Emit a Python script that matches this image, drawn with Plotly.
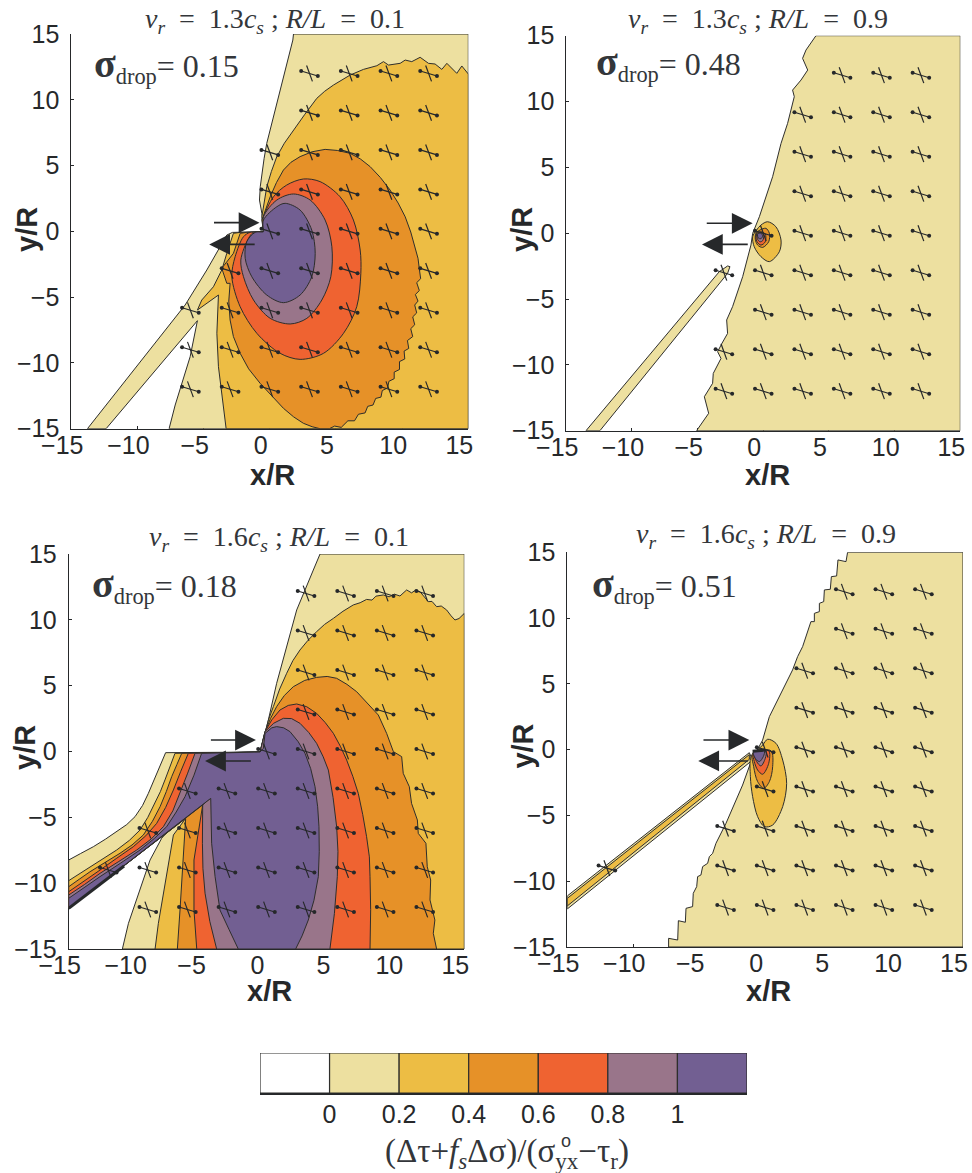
import plotly.graph_objects as go

COLORS = ["#EDE0A0", "#EDBD44", "#E69128", "#EF6331", "#99758A", "#725F92"]
DARK = "#26282A"
LEVEL_EDGES = [-0.2, 0, 0.2, 0.4, 0.6, 0.8, 1.0, 1.2]
LEVEL_COLORS = ["#FFFFFF"] + COLORS
TICKS = [-15, -10, -5, 0, 5, 10, 15]
TICK_TEXT = ["−15", "−10", "−5", "0", "5", "10", "15"]
LEVEL_TICKS = [0, 0.2, 0.4, 0.6, 0.8, 1.0]
LEVEL_TEXT = ["0", "0.2", "0.4", "0.6", "0.8", "1"]

# ---------------- Panel A: v_r=1.3 c_s, R/L=0.1
A_PALE = [(1.79,15),(15,15),(15,-15),(-7.61,-15),(-7.15,-13.2),(-6.65,-11.55),(-6.02,-9.53),(-5.47,-6.79),(-12.37,-15),(-13.78,-15),(-10.68,-11.05),(-6.4,-5.6),(-4.76,-2.94),(-3.25,-0.28),(-2.82,-0.08),(-0.48,-0.03),(-0.6,1.37),(-0.78,2.38),(-0.72,3.4),(-0.6,4.41),(-0.43,5.55),(-0.23,6.69),(0.53,9.73),(1.28,12.52),(1.74,14.54)]
A_GOLD = [(-0.6,1.11),(-.45,2.2),(-0.23,3.39),(.12,4.55),(0.53,5.68),(1.1,6.7),(1.79,7.7),(2.65,8.9),(3.55,10.11),(4.15,10.65),(4.81,11.12),(5.4,11.5),(6.07,11.88),(7.08,12.31),(8.09,12.59),(8.59,12.9),(8.97,12.64),(9.85,12.77),(10.23,13.02),(10.73,12.9),(11.36,13.23),(11.99,12.77),(12.49,12.72),(13,12.31),(13.38,12.77),(14.13,12.01),(14.51,12.57),(15,11.96),(15,-15),(-3.3,-15),(-3.55,-12.82),(-3.88,-10.29),(-4,-7.75),(-3.88,-4.84),(-5.47,-5.98),(-5.14,-5.22),(-4.26,-4.21),(-3.63,-2.94),(-3.25,-1.67),(-2.75,-0.15),(-2.24,-0.08),(-0.48,-0.03)]
A_ORANGE = [(-0.6,0.86),(-.3,1.75),(0.03,2.63),(.5,3.7),(1.03,4.66),(1.6,5.25),(2.29,5.68),(3.2,6.05),(4.18,6.23),(5.1,6.15),(6.07,5.93),(6.85,5.5),(7.58,4.92),(8.35,4.1),(9.09,3.14),(9.7,2.15),(10.23,1.11),(10.65,-.05),(10.98,-1.17),(11.2,-2.05),(11.31,-2.94),(11.4,-3.6),(11.1,-3.9),(11.3,-4.5),(11.0,-4.8),(11.2,-5.3),(10.95,-5.6),(11.1,-6.2),(10.8,-6.5),(10.95,-7.1),(10.65,-7.4),(10.8,-8),(10.4,-8.3),(10.5,-8.9),(10.15,-9.1),(10.2,-9.7),(9.8,-9.9),(9.8,-10.5),(9.4,-10.7),(9.4,-11.2),(9,-11.4),(8.9,-11.9),(8.5,-12.1),(8.4,-12.6),(8,-12.7),(7.8,-13.2),(7.4,-13.3),(7.2,-13.8),(6.7,-13.9),(6.4,-14.4),(5.9,-14.4),(5.4,-14.9),(4.9,-14.8),(4.5,-15),(3.8,-15),(3.2,-14.85),(2.54,-14.59),(1.8,-14.1),(1.03,-13.45),(.15,-12.5),(-0.73,-11.55),(-1.6,-10.45),(-2.24,-9.27),(-2.75,-8),(-3,-6.74),(-3.1,-5.3),(-3,-3.95),(-3.25,-3.95),(-3.63,-2.81),(-2.75,-1.67),(-2.24,-0.15),(-1.74,-0.08),(-0.48,-0.03)]
A_RED = [(-0.48,0.99),(0.28,2.63),(1.28,3.52),(2.54,3.98),(3.8,3.78),(5.31,2.63),(6.32,0.86),(6.83,-1.42),(6.88,-3.19),(6.57,-5.73),(5.57,-7.75),(4.06,-9.27),(2.29,-9.73),(0.78,-9.27),(-0.98,-7.75),(-2.24,-5.73),(-2.87,-3.45),(-2.62,-1.93),(-1.99,-0.41),(-1.49,-0.08),(-0.48,-0.03)]
A_MAUVE = [(-0.48,1.11),(0.53,2.38),(1.79,2.84),(3.05,2.38),(4.18,0.86),(4.69,-1.17),(4.61,-3.45),(3.93,-5.22),(2.8,-6.61),(1.54,-7.04),(0.03,-6.61),(-1.23,-5.22),(-1.99,-3.45),(-2.19,-2.18),(-1.61,-0.53),(-1.23,-0.08),(-0.48,-0.03)]
A_PURPLE = [(-0.48,0.05),(-0.48,0.86),(0.53,1.87),(1.16,2.13),(2.29,1.62),(3.17,0.1),(3.43,-1.67),(3.17,-3.45),(2.29,-4.84),(1.03,-5.42),(-0.23,-4.84),(-1.36,-3.45),(-1.86,-2.05),(-1.74,-0.79),(-1.11,-0.08),(-0.48,-0.03)]

# ---------------- Panel B: v_r=1.3 c_s, R/L=0.9
B_PALE = [(4.01,15),(15,15),(15,-15),(-5.08,-15),(-4.16,-13.68),(-4.49,-12.42),(-3.86,-11.4),(-3.81,-10.65),(-3.22,-9.51),(-3.48,-9),(-3.15,-8.37),(-2.72,-7.61),(-2.79,-6.59),(-2.34,-5.58),(-1.57,-3.3),(-0.94,-0.9),(-0.81,-0.01),(-0.3,1.25),(0.71,4.29),(1.35,6.82),(1.85,8.34),(2.11,9.35),(2.36,10.37),(2.23,10.87),(2.87,11.63),(3.38,12.39),(2.99,13.28),(3.25,13.91)]
B_STRIP = [(-13.5,-15),(-3.35,-2.92),(-2.72,-2.49),(-2.54,-2.54),(-2.72,-3.05),(-12.44,-15)]
B_GOLD = [(.33,.87),(.96,.49),(1.35,-.52),(1.22,-1.41),(.46,-2.16),(-.18,-1.78),(-.69,-1.03),(-.81,-.27),(-.51,.24),(-.18,.62)]
B_ORANGE = [(-.56,0),(-.25,.24),(.2,.37),(.46,0),(.41,-.65),(-.05,-1.08),(-.43,-.9),(-.61,-.47)]
B_RED = [(-.56,-.06),(-.18,.11),(.15,-.06),(.15,-.65),(-.18,-.9),(-.48,-.65)]
B_MAUVE = [(-.5,-.06),(-.18,.04),(.03,-.14),(-.05,-.57),(-.25,-.65),(-.43,-.47)]
B_PURPLE = [(-.43,-.06),(-.18,0),(-.05,-.22),(-.18,-.42),(-.38,-.37)]

# ---------------- Panel C: v_r=1.6 c_s, R/L=0.1
C_PALE = [(4.06,15),(15,15),(15,-15),(-10.93,-15),(-10.47,-13.05),(-9.59,-10.52),(-8.83,-8.24),(-7.95,-6.59),(-7.14,-5.71),(-15,-11.91),(-15,-8.24),(-14.1,-7.75),(-13.13,-7.23),(-12.2,-6.65),(-11.36,-6.09),(-10.6,-5.55),(-9.97,-4.95),(-9.4,-4.1),(-8.96,-3.18),(-8.55,-2.25),(-8.2,-1.41),(-7.9,-.7),(-7.65,-0.09),(-0.49,-0.04),(-0.24,0.87),(0.14,2.39),(0.77,5.18),(1.53,7.96),(2.29,10.75),(3.55,13.78)]
C_GOLD = [(-0.11,1.38),(.15,2.4),(.52,3.41),(1,4.75),(1.53,5.94),(2,6.9),(2.54,7.71),(3.15,8.45),(3.8,9.1),(4.4,9.65),(5.07,10.11),(5.8,10.65),(6.58,11.13),(7.1,11.3),(7.59,11.55),(8,11.5),(8.3,11.8),(8.86,11.89),(9.3,11.75),(9.7,11.95),(10.12,11.81),(10.63,12.27),(11,12.05),(11.3,12.25),(11.64,12.14),(11.95,11.75),(12.27,11.38),(12.55,11.4),(12.9,11),(13.25,11.05),(13.66,10.75),(14,10.3),(14.29,9.99),(14.6,10.1),(15,10.49),(15,-15),(-8.45,-15),(-8.2,-13.05),(-7.57,-9.51),(-7.06,-6.34),(-6.13,-5.08),(-15,-11.91),(-15,-9.81),(-14.2,-9.3),(-13.38,-8.75),(-12.4,-8.15),(-11.36,-7.48),(-10.4,-6.75),(-9.59,-5.96),(-9,-5),(-8.45,-3.94),(-8.05,-3.05),(-7.7,-2.16),(-7.3,-1.1),(-6.94,-.14),(-0.49,-0.04)]
C_ORANGE = [(-.11,1.51),(.3,2.5),(.77,3.41),(1.35,4.25),(2.03,4.92),(2.9,5.4),(3.8,5.63),(4.6,5.7),(5.32,5.56),(6.1,5.1),(6.84,4.54),(7.5,3.85),(8.1,3.15),(8.48,2.77),(9.11,1.38),(9.62,-0.01),(10.25,-0.39),(10.37,-1.66),(10.83,-2.67),(11.0,-3.94),(11.44,-5.2),(11.51,-6.22),(12.09,-6.97),(12.19,-8.75),(12.45,-9.76),(12.4,-11.28),(12.77,-12.8),(12.65,-13.81),(12.9,-15),(-6.76,-15),(-6.56,-12.04),(-6.31,-8.24),(-6.13,-5.08),(-15,-11.91),(-15,-10.27),(-14.2,-9.7),(-13.38,-9.13),(-12.2,-8.4),(-11.11,-7.73),(-10.2,-7.1),(-9.34,-6.34),(-8.65,-5.3),(-8.07,-4.19),(-7.6,-3.05),(-7.19,-1.91),(-6.8,-1),(-6.43,-.14),(-0.49,-0.04)]
C_RED = [(-.11,1.51),(.4,2.4),(1.02,3.15),(1.65,3.5),(2.29,3.61),(3.05,3.4),(3.8,2.9),(4.45,2.2),(5.07,1.38),(5.6,.4),(6.08,-.65),(6.55,-1.9),(6.96,-3.18),(7.3,-4.8),(7.59,-6.47),(7.8,-8),(7.85,-9.51),(7.9,-12),(7.85,-15),(-5.29,-15),(-5.5,-12.04),(-5.5,-8.24),(-4.84,-4.06),(-15,-11.91),(-15,-10.65),(-13.8,-9.85),(-12.62,-9),(-11.35,-8.1),(-10.1,-7.23),(-9.15,-6.4),(-8.33,-5.46),(-7.65,-4.25),(-7.06,-2.92),(-6.5,-1.5),(-5.93,-.14),(-0.49,-0.04)]
C_MAUVE = [(-.11,1.51),(.55,2.15),(1.28,2.52),(1.9,2.5),(2.54,2.14),(3.2,1.45),(3.8,.62),(4.3,-.4),(4.69,-1.41),(5.05,-3.5),(5.32,-5.71),(5.42,-7.6),(5.37,-9.51),(5.15,-12.3),(4.81,-15),(-3.78,-15),(-4.3,-12.9),(-4.66,-10.77),(-4.82,-8.9),(-4.86,-6.97),(-4.84,-4.06),(-4.28,-3.56),(-15,-11.91),(-15,-10.9),(-13.8,-10.1),(-12.62,-9.25),(-11.2,-8.35),(-9.84,-7.48),(-8.75,-6.65),(-7.82,-5.71),(-7.1,-4.5),(-6.56,-3.18),(-6,-1.7),(-5.42,-.14),(-0.49,-0.04)]
C_PURPLE = [(-.11,1.38),(.4,1.8),(.77,1.89),(1.3,1.8),(1.78,1.51),(2.4,.75),(2.92,-.14),(3.35,-1.3),(3.68,-2.67),(3.88,-4.2),(3.98,-5.71),(4.0,-7.6),(3.93,-9.51),(3.6,-11.3),(3.17,-12.8),(2.7,-14),(2.21,-15),(-2.14,-15),(-2.85,-13.5),(-3.53,-12.04),(-3.9,-9.5),(-4.16,-6.97),(-4.23,-3.56),(-15,-11.91),(-15,-11.15),(-13.8,-10.3),(-12.62,-9.5),(-11.1,-8.5),(-9.59,-7.48),(-8.5,-6.6),(-7.57,-5.71),(-6.85,-4.6),(-6.18,-3.43),(-5.5,-1.8),(-4.92,-.14),(-0.49,-0.04),(-0.24,0.24)]
C_THICK_EDGE = [(-15,-11.91),(-10.8,-8.7)]

# ---------------- Panel D: v_r=1.6 c_s, R/L=0.9
D_PALE = [(6.25,15),(15,15),(15,-15),(-7.32,-15),(-7.32,-14.34),(-6.63,-14.47),(-6.58,-13),(-6.05,-13.12),(-6,-12.06),(-5.5,-11.93),(-5.45,-10.92),(-5.19,-10.41),(-5.12,-9.65),(-4.87,-9.53),(-4.74,-8.89),(-4.36,-8.64),(-4.23,-8.13),(-3.98,-7.88),(-3.73,-7.12),(-2.97,-5.6),(-1.71,-2.69),(-1.07,-0.91),(-0.19,0.73),(0.32,2.51),(2.08,6.06),(2.46,7.07),(2.84,7.83),(3.22,8.97),(3.47,9.73),(3.73,9.73),(3.73,10.36),(4.11,10.49),(4.11,11.12),(4.44,11.25),(4.49,12.14),(4.94,12.19),(5.02,13.15),(5.42,13.2),(5.52,14.42),(6.13,14.29)]
D_STRIP = [(-15,-11.12),(-1.2,-.23),(-.95,-.79),(-15,-12.11)]
D_STRIP_GOLD = [(-15,-11.3),(-1.2,-.38),(-1.2,-.74),(-15,-11.88)]
D_GOLD = [(.19,.79),(.82,.48),(1.33,-.79),(1.63,-2.56),(1.33,-4.33),(.57,-5.73),(-.06,-5.85),(-.57,-5.09),(-.95,-3.57),(-1.12,-2.05),(-1.07,-.53),(-.57,-.03),(-.19,.35)]
D_ORANGE = [(-.95,-.28),(.44,-.08),(.57,-1.29),(.32,-2.43),(-.11,-2.94),(-.57,-2.43),(-.87,-1.29)]
D_RED = [(-.9,-.28),(.27,-.08),(.27,-1.04),(-.19,-1.87),(-.57,-1.55),(-.82,-.91)]
D_MAUVE = [(-.82,-.28),(.06,-.08),(.01,-.66),(-.32,-1.24),(-.64,-.91)]
D_PURPLE = [(-.9,-.15),(-.06,-.08),(-.14,-.53),(-.44,-.91),(-.75,-.66)]
D_TOP_EDGE = [(-.95,-.12),(.0,-.03)]

# ---------------- stress-orientation crosses: {row y: columns x}
CROSS_A = {12:[3,6,9,12],9:[3,6,9,12],6:[0,3,6,9,12],3:[0,3,6,9,12],0:[0,3,6,9,12],-3:[-3,0,3,6,9,12],-6:[-6,-3,0,3,6,9,12],-9:[-6,-3,0,3,6,9,12],-12:[-6,-3,0,3,6,9,12]}
CROSS_B = {12:[6,9,12],9:[3,6,9,12],6:[3,6,9,12],3:[3,6,9,12],0:[0,3,6,9,12],-3:[-3,0,3,6,9,12],-6:[0,3,6,9,12],-9:[-3,0,3,6,9,12],-12:[-3,0,3,6,9,12]}
CROSS_C = {12:[3,6,9,12],9:[3,6,9,12],6:[3,6,9,12],3:[3,6,9,12],0:[0,3,6,9,12],-3:[-6,-3,0,3,6,9,12],-6:[-9,-6,-3,0,3,6,9,12],-9:[-12,-9,-6,-3,0,3,6,9,12],-12:[-9,-6,-3,0,3,6,9,12]}
CROSS_D = {12:[6,9,12],9:[6,9,12],6:[3,6,9,12],3:[3,6,9,12],0:[0,3,6,9,12],-3:[0,3,6,9,12],-6:[-3,0,3,6,9,12],-9:[-12,-3,0,3,6,9,12],-12:[-3,0,3,6,9,12]}
CROSS_LONG = (0.63, 0.19)
CROSS_SHORT = (0.22, 0.6)

ARROWS_A = [((-4.33,.66),(-.78,.66)),((-1.03,-.99),(-4.58,-.99))]
ARROWS_B = [((-4.42,.75),(-.81,.75)),((-1.07,-.85),(-4.67,-.85))]
ARROWS_C = [((-4.33,.87),(-.8,.87)),((-1.07,-.72),(-4.66,-.72))]
ARROWS_D = [((-4.79,.73),(-1.2,.73)),((-1.2,-.86),(-5.07,-.86))]

SP = "\u00a0"
def title_text(v, rl):
    return (f"<i>v<sub>r</sub></i>{SP*2}={SP*2}{v}<i>c<sub>s</sub></i> ; <i>R/L</i>{SP*2}={SP*2}{rl}")
TITLES = [title_text("1.3", "0.1"), title_text("1.3", "0.9"), title_text("1.6", "0.1"), title_text("1.6", "0.9")]
DROPS = ["0.15", "0.48", "0.18", "0.51"]

W, H = 972, 1173
# layers: (polygon, colour index, smooth outline?)
PANELS = [
    dict(box=(71.3,468.3,34,428.7), title=(275,21), drop=(92,65), xt=(272,475), yt=(27,230),
         layers=[(A_PALE,0,0),(A_GOLD,1,0),(A_ORANGE,2,0),(A_RED,3,1),(A_MAUVE,4,1),(A_PURPLE,5,1)], cross=CROSS_A, arrows=ARROWS_A),
    dict(box=(566.3,960.3,35.7,430.7), title=(757.7,21), drop=(594,63), xt=(767.6,475), yt=(522,230),
         layers=[(B_PALE,0,0),(B_STRIP,0,0),(B_GOLD,1,1),(B_ORANGE,2,1),(B_RED,3,1),(B_MAUVE,4,1),(B_PURPLE,5,1)], cross=CROSS_B, arrows=ARROWS_B),
    dict(box=(68.7,464.3,554,949), title=(279,538), drop=(90,585), xt=(269,991), yt=(25,748),
         layers=[(C_PALE,0,0),(C_GOLD,1,0),(C_ORANGE,2,0),(C_RED,3,0),(C_MAUVE,4,0),(C_PURPLE,5,0)], cross=CROSS_C, arrows=ARROWS_C),
    dict(box=(567.3,963,552.3,947), title=(766,535), drop=(590,585), xt=(768,991), yt=(522.6,746),
         layers=[(D_PALE,0,0),(D_STRIP,0,0),(D_STRIP_GOLD,1,0),(D_GOLD,1,1),(D_ORANGE,2,1),(D_RED,3,1),(D_MAUVE,4,1),(D_PURPLE,5,1)], cross=CROSS_D, arrows=ARROWS_D),
]
BAR_BOX = (260, 747, 1053, 1093)

def px(x): return x / W
def py(y): return 1 - y / H

fig = go.Figure()
annots = []
axis_font = dict(family="Liberation Sans", size=25, color=DARK)
CENTER = dict(xanchor="center", yanchor="middle", showarrow=False, xref="paper", yref="paper")

for i, p in enumerate(PANELS, start=1):
    xa, ya = f"x{i}", f"y{i}"
    l, r, t, b = p["box"]
    common = dict(range=[-15, 15], tickmode="array", tickvals=TICKS, ticktext=TICK_TEXT, ticks="inside",
                  ticklen=3, tickcolor=DARK, tickwidth=1, showline=True, linecolor=DARK, linewidth=1,
                  showgrid=False, zeroline=False, layer="below traces", tickfont=axis_font, automargin=False)
    fig.update_layout({f"xaxis{i}": dict(domain=[px(l), px(r)], anchor=ya, ticklabelshift=-9, ticklabelstandoff=-6, **common),
                       f"yaxis{i}": dict(domain=[py(b), py(t)], anchor=xa, ticklabelstandoff=6, **common)})
    for poly, c, smooth in p["layers"]:
        xs = [q[0] for q in poly] + [poly[0][0]]
        ys = [q[1] for q in poly] + [poly[0][1]]
        line = dict(color="#2E2E2C", width=1, shape="spline", smoothing=0.9) if smooth else dict(color="#2E2E2C", width=1)
        fig.add_trace(go.Scatter(x=xs, y=ys, xaxis=xa, yaxis=ya, mode="lines", fill="toself", fillcolor=COLORS[c],
                                 line=line, hoverinfo="skip", showlegend=False, cliponaxis=False))
    if i == 3:
        fig.add_trace(go.Scatter(x=[q[0] for q in C_THICK_EDGE], y=[q[1] for q in C_THICK_EDGE], xaxis=xa, yaxis=ya,
                                 mode="lines", line=dict(color=DARK, width=3), hoverinfo="skip", showlegend=False, cliponaxis=False))
    if i == 4:
        fig.add_trace(go.Scatter(x=[q[0] for q in D_TOP_EDGE], y=[q[1] for q in D_TOP_EDGE], xaxis=xa, yaxis=ya,
                                 mode="lines", line=dict(color=DARK, width=3), hoverinfo="skip", showlegend=False, cliponaxis=False))
    lx, ly, ex, ey, sx, sy = [], [], [], [], [], []
    for row, cols in p["cross"].items():
        for col in cols:
            a, c = CROSS_LONG
            lx += [col - a, col + a, None]; ly += [row + c, row - c, None]
            ex += [col - a, col + a]; ey += [row + c, row - c]
            a, c = CROSS_SHORT
            sx += [col - a, col + a, None]; sy += [row + c, row - c, None]
    fig.add_trace(go.Scatter(x=lx + sx, y=ly + sy, xaxis=xa, yaxis=ya, mode="lines",
                             line=dict(color=DARK, width=1.2), hoverinfo="skip", showlegend=False))
    fig.add_trace(go.Scatter(x=ex, y=ey, xaxis=xa, yaxis=ya, mode="markers",
                             marker=dict(color=DARK, size=4), hoverinfo="skip", showlegend=False))
    for start, tip in p["arrows"]:
        annots.append(dict(x=tip[0], y=tip[1], ax=start[0], ay=start[1], xref=xa, yref=ya, axref=xa, ayref=ya,
                           showarrow=True, arrowhead=2, arrowsize=2.6, arrowwidth=1.6, arrowcolor=DARK, text="", standoff=0))
    annots.append(dict(x=px(p["title"][0]), y=py(p["title"][1]), text=TITLES[i-1],
                       font=dict(family="Liberation Serif", size=28, color="#33363A"), **CENTER))
    annots.append(dict(x=px(p["drop"][0]), y=py(p["drop"][1]), xref="paper", yref="paper", xanchor="left", yanchor="middle",
                       showarrow=False, text='<span style="font-size:40px"><b>σ</b></span><sub>drop</sub>= ' + DROPS[i-1],
                       font=dict(family="Liberation Serif", size=32, color="#33363A")))
    annots.append(dict(x=px(p["xt"][0]), y=py(p["xt"][1]), text="<b>x/R</b>",
                       font=dict(family="Liberation Sans", size=29, color=DARK), **CENTER))
    annots.append(dict(x=px(p["yt"][0]), y=py(p["yt"][1]), textangle=-90, text="<b>y/R</b>",
                       font=dict(family="Liberation Sans", size=29, color=DARK), **CENTER))

l, r, t, b = BAR_BOX
fig.add_trace(go.Bar(y=[0]*7, x=[LEVEL_EDGES[k+1]-LEVEL_EDGES[k] for k in range(7)], base=LEVEL_EDGES[:-1],
                     orientation="h", width=1, marker=dict(color=LEVEL_COLORS, line=dict(color="#2E2E2C", width=1.2)),
                     xaxis="x5", yaxis="y5", hoverinfo="skip", showlegend=False, cliponaxis=False))
fig.update_layout(
    xaxis5=dict(domain=[px(l), px(r)], anchor="y5", range=[-0.2, 1.2], tickmode="array", tickvals=LEVEL_TICKS,
                ticktext=LEVEL_TEXT, ticks="", tickfont=axis_font, ticklabelstandoff=-2, showline=True, linecolor=DARK, linewidth=2,
                showgrid=False, zeroline=False, automargin=False),
    yaxis5=dict(domain=[py(b), py(t)], anchor="x5", range=[-0.5, 0.5], showticklabels=False, ticks="",
                showgrid=False, zeroline=False, showline=False, automargin=False),
)
annots.append(dict(x=px(506.7), y=py(1153), text="(Δτ+<i>f<sub>s</sub></i>Δσ)/(σ<sub>yx</sub>−τ<sub>r</sub>)",
                   font=dict(family="Liberation Serif", size=33, color="#33363A"), **CENTER))
annots.append(dict(x=px(566), y=py(1141), text="o",
                   font=dict(family="Liberation Sans", size=18, color="#33363A"), **CENTER))

fig.update_layout(width=W, height=H, margin=dict(l=0, r=0, t=0, b=0), paper_bgcolor="white", plot_bgcolor="rgba(0,0,0,0)",
                  showlegend=False, annotations=annots, barmode="overlay")
fig.write_html("out.html", post_script="document.body.style.margin='0';", config={"displayModeBar": False})
